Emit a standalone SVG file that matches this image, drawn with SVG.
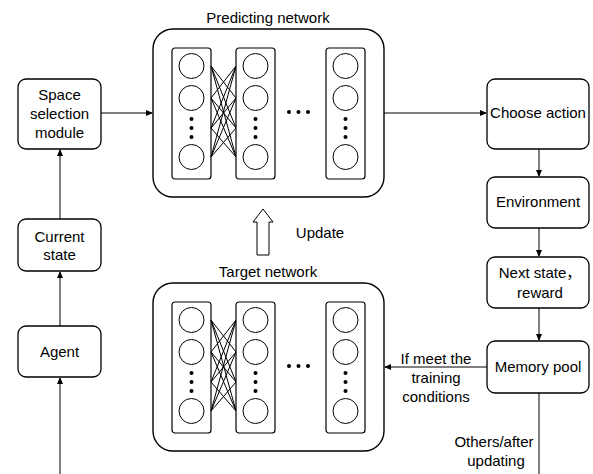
<svg xmlns="http://www.w3.org/2000/svg" width="593" height="474" viewBox="0 0 593 474">
<style>
text{font-family:"Liberation Sans","Noto Sans CJK SC",sans-serif;font-size:15px;fill:#000;text-anchor:middle}
.box{fill:#fff;stroke:#000;stroke-width:1.3}
.net{fill:#fff;stroke:#000;stroke-width:1.4}
.col{fill:#fff;stroke:#000;stroke-width:1.2}
.neu{fill:#fff;stroke:#000;stroke-width:1}
.ln{fill:none;stroke:#000;stroke-width:1}
.dot{fill:#000}
</style>
<defs>
<marker id="ah" markerWidth="7" markerHeight="6" refX="6" refY="3" orient="auto" markerUnits="userSpaceOnUse">
<path d="M0,0 L7,3 L0,6 Z" fill="#000"/>
</marker>
<g id="column">
<rect class="col" x="0" y="0" width="39" height="131" rx="3"/>
<circle class="neu" cx="19.5" cy="18" r="12.5"/>
<circle class="neu" cx="19.5" cy="50" r="12.5"/>
<circle class="neu" cx="19.5" cy="109" r="12.5"/>
<circle class="dot" cx="19.5" cy="71" r="2"/>
<circle class="dot" cx="19.5" cy="80" r="2"/>
<circle class="dot" cx="19.5" cy="89" r="2"/>
</g>
<g id="links">
<path class="ln" d="M0,18 L25,50 M0,18 L25,80 M0,18 L25,109 M0,50 L25,18 M0,50 L25,80 M0,50 L25,109 M0,80 L25,18 M0,80 L25,50 M0,80 L25,109 M0,109 L25,18 M0,109 L25,50 M0,109 L25,80"/>
</g>
<g id="network">
<rect class="net" x="0" y="0" width="231" height="168" rx="20"/>
<use href="#column" x="19" y="19"/>
<use href="#links" x="58" y="19"/>
<use href="#column" x="83" y="19"/>
<circle class="dot" cx="136" cy="83" r="2"/>
<circle class="dot" cx="145.5" cy="83" r="2"/>
<circle class="dot" cx="155" cy="83" r="2"/>
<use href="#column" x="173" y="19"/>
</g>
</defs>

<g id="connectors">
<line class="ln" x1="60" y1="474" x2="60" y2="378" marker-end="url(#ah)"/>
<line class="ln" x1="60" y1="326" x2="60" y2="272" marker-end="url(#ah)"/>
<line class="ln" x1="60" y1="219" x2="60" y2="150" marker-end="url(#ah)"/>
<line class="ln" x1="101" y1="113" x2="152" y2="113" marker-end="url(#ah)"/>
<line class="ln" x1="384" y1="113" x2="486" y2="113" marker-end="url(#ah)"/>
<line class="ln" x1="539" y1="149" x2="539" y2="176" marker-end="url(#ah)"/>
<line class="ln" x1="539" y1="228" x2="539" y2="256" marker-end="url(#ah)"/>
<line class="ln" x1="539" y1="308" x2="539" y2="340" marker-end="url(#ah)"/>
<line class="ln" x1="487" y1="367" x2="385" y2="367" marker-end="url(#ah)"/>
<line class="ln" x1="539" y1="393" x2="539" y2="474"/>
<path id="update-arrow" d="M257,255 L257,222 L253,222 L263,209 L273,222 L269,222 L269,255 Z" fill="#fff" stroke="#000" stroke-width="1"/>
<text x="320" y="238">Update</text>
<text x="436" y="364">If meet the</text>
<text x="436" y="383">training</text>
<text x="436" y="402">conditions</text>
<text x="494" y="447">Others/after</text>
<text x="496" y="466">updating</text>
</g>

<g id="predicting-network">
<text x="268" y="23">Predicting network</text>
<use href="#network" x="153" y="29"/>
</g>
<g id="target-network">
<text x="268" y="277">Target network</text>
<use href="#network" x="153" y="283"/>
</g>

<g id="space-selection">
<rect class="box" x="18" y="79" width="83" height="70" rx="8"/>
<text x="59.5" y="100">Space</text>
<text x="59.5" y="119">selection</text>
<text x="59.5" y="138">module</text>
</g>
<g id="current-state">
<rect class="box" x="18" y="219" width="83" height="52" rx="8"/>
<text x="59.5" y="242">Current</text>
<text x="59.5" y="260">state</text>
</g>
<g id="agent">
<rect class="box" x="18" y="326" width="83" height="51" rx="8"/>
<text x="59.5" y="357">Agent</text>
</g>
<g id="choose-action">
<rect class="box" x="487" y="79" width="102" height="70" rx="8"/>
<text x="538" y="118">Choose action</text>
</g>
<g id="environment">
<rect class="box" x="487" y="177" width="102" height="51" rx="8"/>
<text x="538" y="207">Environment</text>
</g>
<g id="next-state">
<rect class="box" x="487" y="257" width="102" height="51" rx="8"/>
<text x="540" y="278">Next state，</text>
<text x="540" y="298">reward</text>
</g>
<g id="memory-pool">
<rect class="box" x="487" y="341" width="102" height="52" rx="8"/>
<text x="538" y="372">Memory pool</text>
</g>
</svg>
